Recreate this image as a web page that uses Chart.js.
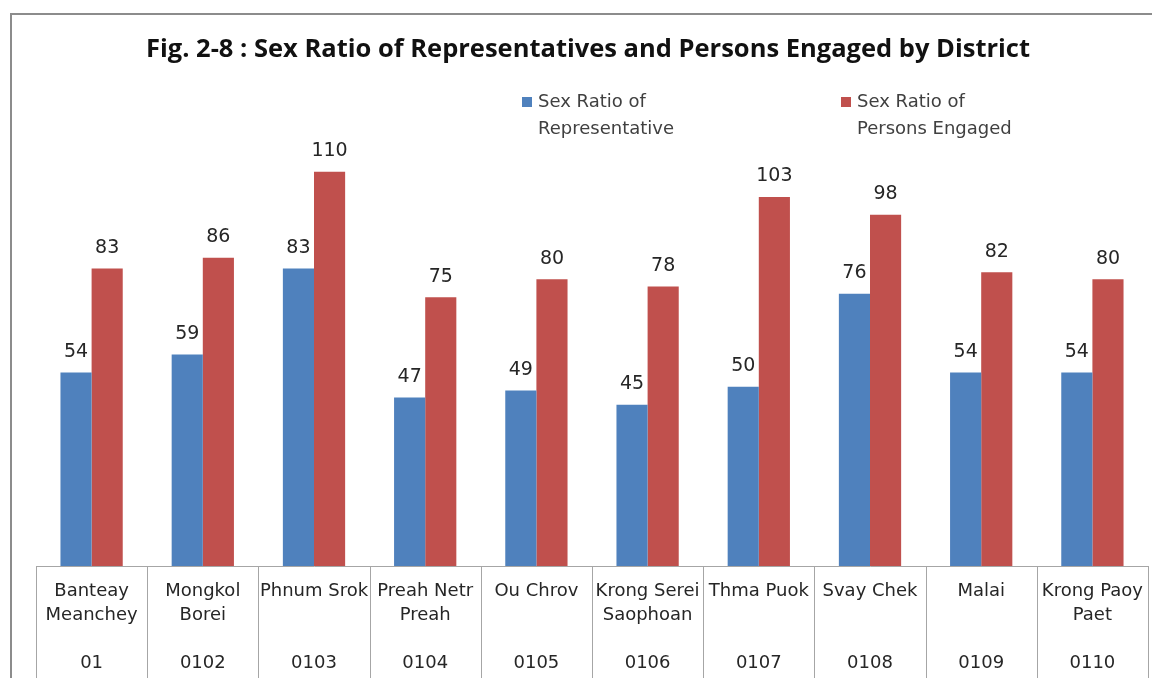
<!DOCTYPE html>
<html>
<head>
<meta charset="utf-8">
<script src="https://cdn.jsdelivr.net/npm/chart.js@4.4.1/dist/chart.umd.min.js"></script>
<style>
  html, body { margin: 0; padding: 0; background: #fff; }
  #wrap { width: 1152px; height: 678px; position: relative; }
</style>
</head>
<body>
<div id="wrap"><canvas id="myChart" width="1152" height="678"></canvas></div>
<script>
//? DATOS DEL GRAFICO

const distritos = [
  ["Banteay", "Meanchey"],
  ["Mongkol", "Borei"],
  ["Phnum Srok", ""],
  ["Preah Netr", "Preah"],
  ["Ou Chrov", ""],
  ["Krong Serei", "Saophoan"],
  ["Thma Puok", ""],
  ["Svay Chek", ""],
  ["Malai", ""],
  ["Krong Paoy", "Paet"]
];
const codigos = ["01", "0102", "0103", "0104", "0105", "0106", "0107", "0108", "0109", "0110"];
const representantes = [54, 59, 83, 47, 49, 45, 50, 76, 54, 54];
const personas = [83, 86, 110, 75, 80, 78, 103, 98, 82, 80];
const tituloTexto = "Fig. 2-8 : Sex Ratio of Representatives and Persons Engaged by District";
const leyendaRep = ["Sex Ratio of", "Representative"];
const leyendaPer = ["Sex Ratio of", "Persons Engaged"];

const AZUL = "#4F81BD";
const ROJO = "#C0504D";
const FUENTE = "'DejaVu Sans', sans-serif";
const FUENTE_TITULO = "'Open Sans', sans-serif";

// etiquetas del eje: nombre (2 lineas), linea vacia, codigo
const etiquetas = distritos.map((d, i) => [d[0], d[1], "", codigos[i]]);

//? PLUGIN: MARCO, TITULO Y LEYENDA

const decoracion = {
  id: "decoracion",
  beforeDraw(chart) {
    const { ctx } = chart;
    ctx.save();
    ctx.fillStyle = "#fff";
    ctx.fillRect(0, 0, chart.width, chart.height);
    ctx.strokeStyle = "#8c8c8c";
    ctx.lineWidth = 2;
    ctx.beginPath();
    ctx.moveTo(11, chart.height);
    ctx.lineTo(11, 14);
    ctx.lineTo(chart.width, 14);
    ctx.stroke();
    ctx.restore();
  },
  afterDraw(chart) {
    const { ctx } = chart;
    ctx.save();
    // titulo
    ctx.fillStyle = "#111";
    ctx.font = "bold 25.5px " + FUENTE_TITULO;
    ctx.textAlign = "center";
    ctx.textBaseline = "middle";
    ctx.fillText(tituloTexto, 588, 50);

    // leyenda
    ctx.font = "18px " + FUENTE;
    ctx.textAlign = "left";
    const items = [
      { color: AZUL, x: 522, text: leyendaRep },
      { color: ROJO, x: 841, text: leyendaPer }
    ];
    items.forEach(({ color, x, text }) => {
      ctx.fillStyle = color;
      ctx.fillRect(x, 97, 10, 10);
      ctx.fillStyle = "#404040";
      text.forEach((t, k) => ctx.fillText(t, x + 16, 102 + k * 27));
    });

    // lineas verticales de la tabla de categorias
    const xs = chart.scales.x;
    const n = etiquetas.length;
    const ancho = (xs.right - xs.left) / n;
    ctx.strokeStyle = "#a6a6a6";
    ctx.lineWidth = 1;
    ctx.beginPath();
    for (let i = 0; i <= n; i++) {
      const px = i < n ? xs.getPixelForValue(i) - ancho / 2 : xs.getPixelForValue(n - 1) + ancho / 2;
      const xr = Math.round(px) + 0.5;
      ctx.moveTo(xr, xs.top);
      ctx.lineTo(xr, chart.height);
    }
    ctx.stroke();
    ctx.restore();
  }
};

//? PLUGIN: VALORES SOBRE LAS BARRAS

const valores = {
  id: "valores",
  afterDatasetsDraw(chart) {
    const { ctx } = chart;
    ctx.save();
    ctx.font = "19px " + FUENTE;
    ctx.fillStyle = "#262626";
    ctx.textAlign = "center";
    ctx.textBaseline = "bottom";
    chart.data.datasets.forEach((ds, i) => {
      chart.getDatasetMeta(i).data.forEach((bar, j) => {
        ctx.fillText(ds.data[j], bar.x, bar.y - 11);
      });
    });
    ctx.restore();
  }
};

//? CONFIGURACION

const config = {
  type: "bar",
  data: {
    labels: etiquetas,
    datasets: [
      { label: leyendaRep.join(" "), data: representantes, backgroundColor: AZUL },
      { label: leyendaPer.join(" "), data: personas, backgroundColor: ROJO }
    ]
  },
  options: {
    responsive: false,
    animation: false,
    layout: { padding: { top: 136, left: 36, right: 4, bottom: 0 } },
    datasets: { bar: { categoryPercentage: 0.56, barPercentage: 1 } },
    plugins: {
      legend: { display: false },
      title: { display: false },
      tooltip: { enabled: false }
    },
    scales: {
      y: { display: false, min: 0, max: 120 },
      x: {
        grid: { display: false },
        border: { display: true, color: "#a6a6a6", width: 1 },
        ticks: {
          maxRotation: 0,
          autoSkip: false,
          padding: 5,
          color: "#262626",
          font: { family: FUENTE, size: 18, lineHeight: "24px" }
        },
        afterFit(scale) {
          scale.height = 112;
        }
      }
    }
  },
  plugins: [decoracion, valores]
};

const myChart = new Chart("myChart", config);
</script>
</body>
</html>
